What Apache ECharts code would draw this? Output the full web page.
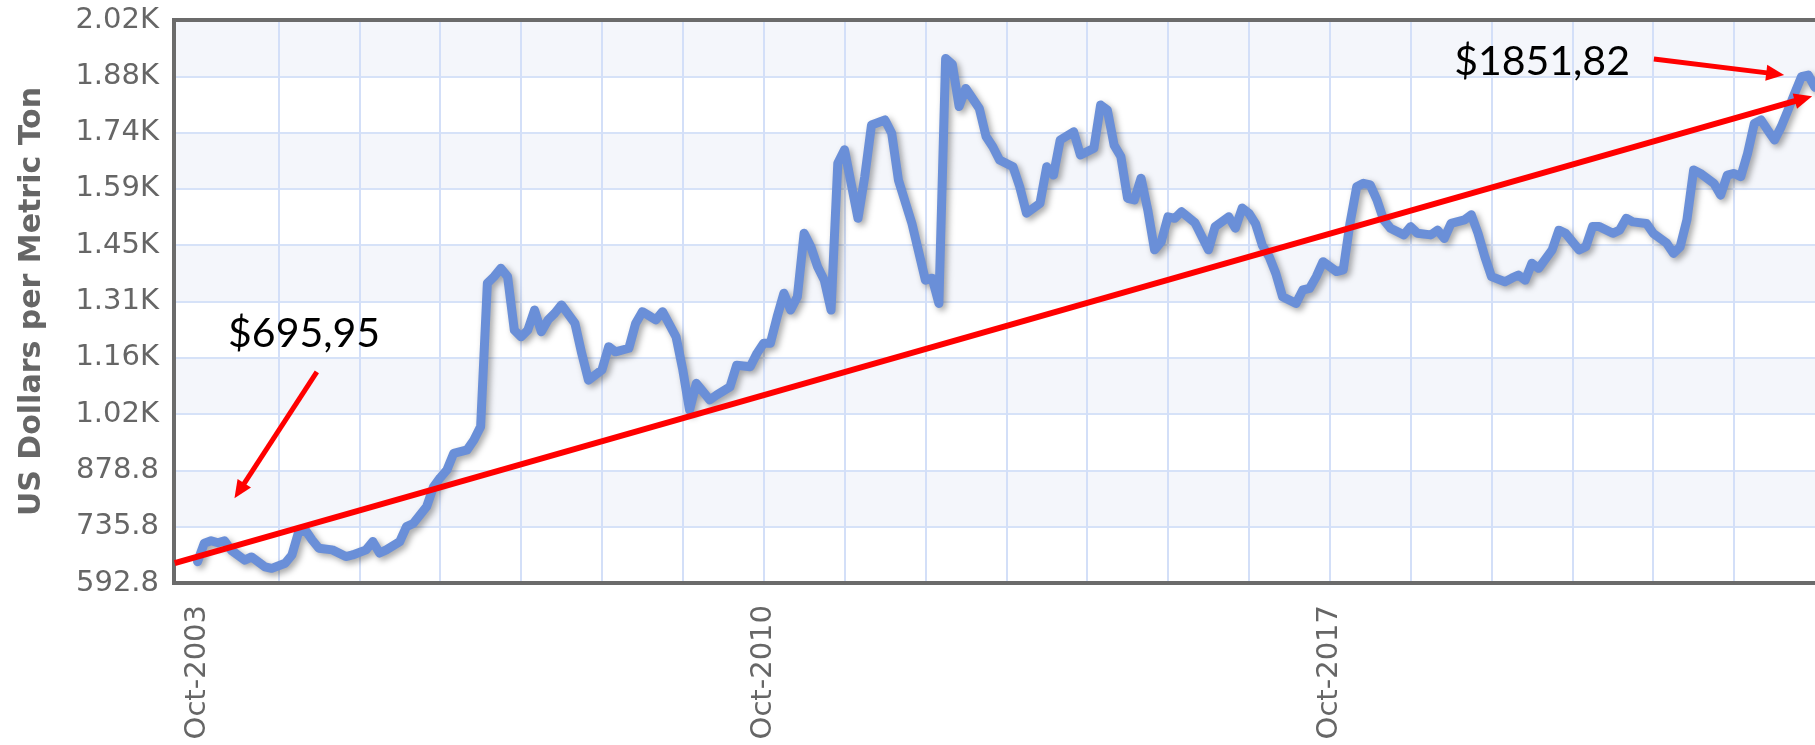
<!DOCTYPE html>
<html>
<head>
<meta charset="utf-8">
<title>US Dollars per Metric Ton</title>
<script src="https://cdn.jsdelivr.net/npm/echarts@6/dist/echarts.min.js"></script>
<style>
  html, body { margin: 0; padding: 0; background: #fff; }
  #chart { width: 1815px; height: 745px; }
</style>
</head>
<body>
<div id="chart"></div>
<script>
// months counted from Oct-2003 (0 = Oct-2003)
var months = [
  0, 1, 2, 3, 4, 5, 7, 8, 10, 11, 13, 14, 15, 16, 17, 18, 20, 22, 23, 25,
  26, 27, 28, 30, 31, 32, 34, 35, 36, 37, 38, 40, 41, 42, 43, 44, 45, 46, 47, 48,
  49, 50, 51, 52, 53, 54, 56, 57, 58, 60, 61, 62, 64, 65, 66, 68, 69, 71, 72, 73,
  74, 76, 77, 79, 80, 82, 83, 84, 85, 86, 87, 88, 89, 90, 91, 92, 93, 94, 95, 96,
  98, 99, 100, 102, 103, 104, 106, 108, 109, 110, 111, 112, 113, 114, 116, 117, 118, 119, 121, 122,
  123, 125, 126, 127, 128, 130, 131, 133, 134, 135, 136, 137, 138, 139, 140, 141, 142, 143, 144, 145,
  146, 148, 150, 151, 153, 154, 155, 156, 157, 158, 159, 160, 161, 163, 164, 165, 166, 167, 169, 170,
  171, 172, 173, 174, 175, 176, 177, 179, 180, 181, 183, 184, 185, 186, 188, 189, 190, 191, 192, 194,
  195, 196, 197, 198, 199, 201, 202, 203, 205, 206, 207, 208, 210, 211, 212, 213, 215, 216, 218, 219,
  220, 221, 222, 223, 225, 226, 227, 228, 229, 230, 231, 232, 233, 234, 235, 236, 237, 238, 239, 240
];
var prices = [
  647, 694, 700, 695, 700, 676, 651, 659, 634, 630, 643, 664, 723, 727, 702, 681, 677, 660, 664, 677,
  698, 669, 677, 698, 736, 744, 787, 837, 860, 880, 922, 931, 956, 990, 1354, 1371, 1392, 1371, 1235, 1218,
  1235, 1286, 1231, 1261, 1278, 1299, 1252, 1176, 1108, 1134, 1193, 1180, 1189, 1252, 1282, 1261, 1282, 1218, 1134, 1032,
  1100, 1058, 1070, 1091, 1146, 1142, 1176, 1202, 1202, 1269, 1329, 1286, 1320, 1481, 1447, 1396, 1362, 1286, 1659, 1693,
  1519, 1625, 1756, 1769, 1735, 1616, 1506, 1362, 1367, 1303, 1925, 1910, 1803, 1849, 1798, 1727, 1701, 1667, 1650, 1599,
  1532, 1557, 1650, 1629, 1718, 1739, 1680, 1697, 1807, 1794, 1705, 1676, 1570, 1566, 1621, 1540, 1439, 1460, 1523, 1519,
  1536, 1508, 1439, 1498, 1523, 1494, 1545, 1532, 1505, 1450, 1422, 1379, 1320, 1303, 1337, 1341, 1371, 1409, 1384, 1388,
  1506, 1599, 1608, 1604, 1566, 1515, 1494, 1477, 1498, 1481, 1477, 1489, 1468, 1506, 1515, 1528, 1481, 1422, 1371, 1358,
  1367, 1375, 1362, 1405, 1392, 1439, 1489, 1481, 1439, 1447, 1498, 1498, 1481, 1489, 1519, 1510, 1506, 1481, 1456, 1430,
  1447, 1515, 1642, 1633, 1608, 1578, 1629, 1633, 1625, 1684, 1760, 1769, 1743, 1718, 1752, 1794, 1837, 1879, 1883, 1851.82
];

var yTicks = [592.8, 735.8, 878.8, 1021.8, 1164.8, 1307.8, 1450.8, 1593.8, 1736.8, 1879.8, 2022.8];
var yTickLabels = ['592.8', '735.8', '878.8', '1.02K', '1.16K', '1.31K', '1.45K', '1.59K', '1.74K', '1.88K', '2.02K'];

var xLabelMonths = [0, 84, 168];
var xLabels = ['Oct-2003', 'Oct-2010', 'Oct-2017'];
var yearGridMonths = [12, 24, 36, 48, 60, 72, 84, 96, 108, 120, 132, 144, 156, 168, 180, 192, 204, 216, 228];

// annotations, in chart coordinates [month, price]
var trendLine = [[-3.4, 643], [238.3, 1823]];
var arrowLow = [[17.7, 1129], [6.2, 827]];
var arrowHigh = [[216.1, 1924], [234.1, 1886]];
var noteLow = { text: '$695,95', at: [15.8, 1225] };
var noteHigh = { text: '$1851,82', at: [199.5, 1916] };

function pick(vals, labels, v) {
  for (var i = 0; i < vals.length; i++) {
    if (Math.abs(vals[i] - v) < 0.01) return labels[i];
  }
  return '';
}

var chart = echarts.init(document.getElementById('chart'), null, { renderer: 'canvas' });

var option = {
  animation: false,
  backgroundColor: '#ffffff',
  grid: {
    left: 174,
    top: 20,
    bottom: 162,
    right: -4,
    outerBoundsMode: 'none',
    containLabel: false,
    show: true,
    backgroundColor: 'transparent',
    borderColor: '#6b6b6b',
    borderWidth: 4,
    z: 5
  },
  xAxis: {
    type: 'value',
    min: -3.5,
    max: 240.6,
    axisLine: { show: false },
    axisTick: { show: false, customValues: yearGridMonths },
    axisLabel: {
      customValues: xLabelMonths,
      rotate: 90,
      margin: 22,
      fontFamily: 'DejaVu Sans',
      fontSize: 29,
      color: '#666',
      formatter: function (v) { return pick(xLabelMonths, xLabels, v); }
    },
    splitLine: { show: true, lineStyle: { color: '#d3dff8', width: 2 } }
  },
  yAxis: {
    type: 'value',
    min: 592.8,
    max: 2022.8,
    name: 'US Dollars per Metric Ton',
    nameLocation: 'middle',
    nameGap: 127,
    nameTextStyle: { fontFamily: 'DejaVu Sans', fontSize: 30, fontWeight: 'bold', color: '#666' },
    axisLine: { show: false },
    axisTick: { show: false, customValues: yTicks },
    axisLabel: {
      customValues: yTicks,
      margin: 15,
      fontFamily: 'DejaVu Sans',
      fontSize: 29,
      color: '#666',
      formatter: function (v) { return pick(yTicks, yTickLabels, v); }
    },
    splitLine: { show: true, lineStyle: { color: '#d6e2f8', width: 2 } },
    splitArea: { show: true, areaStyle: { color: ['#ffffff', '#f4f6fb'] } }
  },
  series: [
    {
      type: 'line',
      data: months.map(function (m, i) { return [m, prices[i]]; }),
      symbol: 'none',
      lineStyle: {
        color: '#6a8fd8',
        width: 9,
        cap: 'round',
        join: 'round',
        shadowColor: 'rgba(0,0,0,0.35)',
        shadowBlur: 6,
        shadowOffsetX: 3,
        shadowOffsetY: 3
      },
      markLine: {
        silent: true,
        symbol: ['none', 'triangle'],
        symbolSize: [16, 18],
        label: { show: false },
        lineStyle: { color: '#ff0000', type: 'solid' },
        data: [
          [{ coord: trendLine[0], lineStyle: { width: 6 } }, { coord: trendLine[1] }],
          [{ coord: arrowLow[0], lineStyle: { width: 5 } }, { coord: arrowLow[1] }],
          [{ coord: arrowHigh[0], lineStyle: { width: 5 } }, { coord: arrowHigh[1] }]
        ]
      },
      markPoint: {
        silent: true,
        symbol: 'circle',
        symbolSize: 1,
        itemStyle: { color: 'rgba(0,0,0,0)' },
        label: {
          show: true,
          position: 'inside',
          formatter: '{b}',
          color: '#000',
          fontFamily: 'Lato',
          fontSize: 41
        },
        data: [
          { name: noteLow.text, coord: noteLow.at },
          { name: noteHigh.text, coord: noteHigh.at }
        ]
      }
    }
  ]
};

chart.setOption(option);
</script>
</body>
</html>
